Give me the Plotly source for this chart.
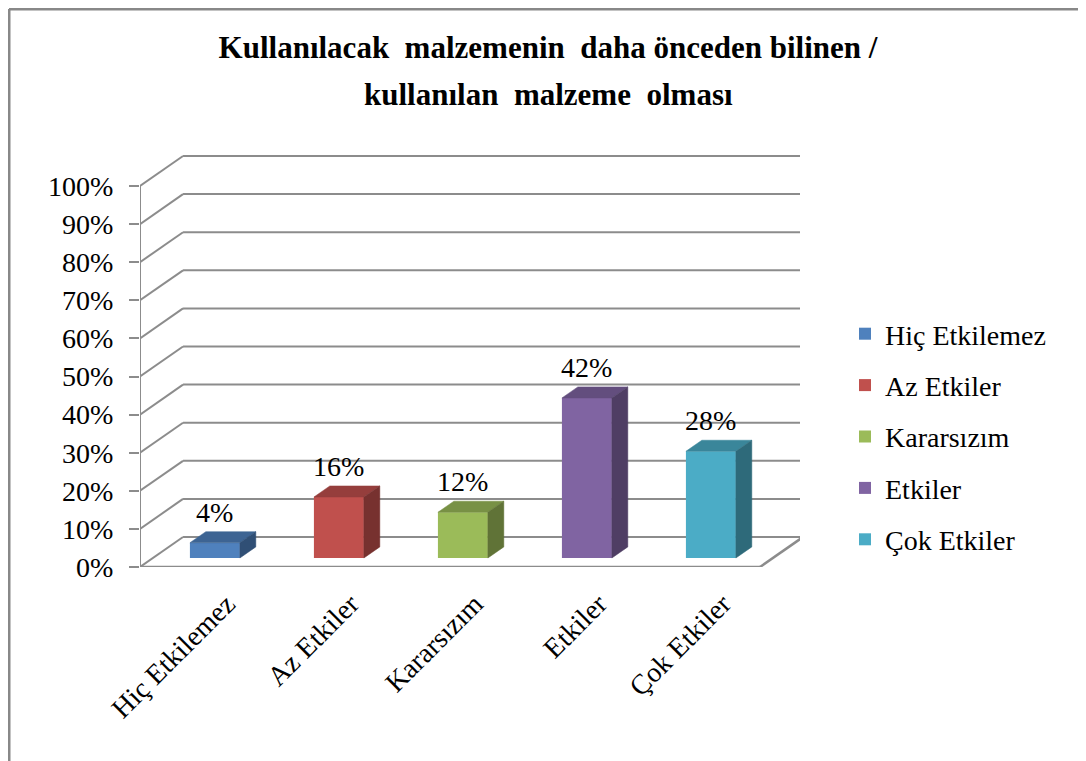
import plotly.graph_objects as go

# ---- data ----
categories = ["Hiç Etkilemez", "Az Etkiler", "Kararsızım", "Etkiler", "Çok Etkiler"]
values = [4, 16, 12, 42, 28]
value_labels = ["4%", "16%", "12%", "42%", "28%"]
y_ticks = [0, 10, 20, 30, 40, 50, 60, 70, 80, 90, 100]
y_tick_labels = [f"{v}%" for v in y_ticks]
title_lines = ["Kullanılacak\u00a0\u00a0malzemenin\u00a0\u00a0daha önceden bilinen /",
               "kullanılan\u00a0\u00a0malzeme\u00a0\u00a0olması"]

# ---- styling / geometry ----
front_colors = ["#4F81BD", "#C0504D", "#9BBB59", "#8064A2", "#4BACC6"]
FONT = "'Liberation Serif', 'Times New Roman', Times, serif"
GRID = "#8C8C8C"

def shade(hexc, f):
    h = hexc.lstrip("#")
    r, g, b = (int(h[i:i + 2], 16) for i in (0, 2, 4))
    return "#%02X%02X%02X" % (int(r * f), int(g * f), int(b * f))

DX = 0.347          # full depth offset along x (category units)
DY = 7.87           # full depth offset along y (percent units)
BAR_FRONT = 0.30    # depth fraction of bar front face
BAR_DEPTH = 0.37    # depth fraction occupied by bar
BAR_W = 0.403
n = len(categories)
X0, X1 = -0.5, n - 0.5

PAGE = 8                       # browser body margin
FW, FH = 1086 - PAGE, 761 - PAGE
PL, PT = 140, 150              # plot area left/top in page px
plot_w, plot_h = 660, 417
L, T = PL - PAGE, PT - PAGE
R = FW - L - plot_w
B = FH - T - plot_h
px_per_unit = 124.0
x_range = [X0, X0 + plot_w / px_per_unit]
y_range = [0, plot_h / 3.81]

def px2paper_x(p): return (p - PL) / plot_w
def py2paper_y(p): return (PT + plot_h - p) / plot_h

fig = go.Figure()

b0 = BAR_FRONT * DY
off = BAR_FRONT * DX
ddx = BAR_DEPTH * DX
ddy = BAR_DEPTH * DY

for i, (cat, v, c) in enumerate(zip(categories, values, front_colors)):
    xc = i + off
    fig.add_trace(go.Bar(x=[xc], y=[v], base=[b0], width=[BAR_W], name=cat,
                         marker=dict(color=c, line=dict(width=0)),
                         legendgroup=cat, showlegend=True, hoverinfo="skip"))
    xl, xr = xc - BAR_W / 2, xc + BAR_W / 2
    top = b0 + v
    fig.add_trace(go.Scatter(x=[xl, xr, xr + ddx, xl + ddx, xl],
                             y=[top, top, top + ddy, top + ddy, top],
                             fill="toself", fillcolor=shade(c, 0.78), mode="lines",
                             line=dict(width=0.5, color=shade(c, 0.78)),
                             showlegend=False, hoverinfo="skip"))
    fig.add_trace(go.Scatter(x=[xr, xr + ddx, xr + ddx, xr, xr],
                             y=[b0, b0 + ddy, top + ddy, top, b0],
                             fill="toself", fillcolor=shade(c, 0.62), mode="lines",
                             line=dict(width=0.5, color=shade(c, 0.62)),
                             showlegend=False, hoverinfo="skip"))
    fig.add_annotation(x=xc, y=top + ddy, xref="x", yref="y",
                       text=value_labels[i], showarrow=False, yanchor="bottom",
                       yshift=2, font=dict(family=FONT, size=28, color="black"))

# second title line
fig.add_annotation(x=px2paper_x(548), y=py2paper_y(95), xref="paper", yref="paper",
                   text="<b>" + title_lines[1] + "</b>", showarrow=False,
                   xanchor="center", yanchor="middle",
                   font=dict(family=FONT, size=31, color="black"))

shapes = []
for v in y_ticks:
    shapes.append(dict(type="line", xref="x", yref="y", x0=X0, y0=v, x1=X0 + DX, y1=v + DY,
                       line=dict(color=GRID, width=2), layer="below"))
    shapes.append(dict(type="line", xref="x", yref="y", x0=X0 + DX, y0=v + DY, x1=X1 + DX, y1=v + DY,
                       line=dict(color=GRID, width=2), layer="below"))
shapes.append(dict(type="line", xref="x", yref="y", x0=X0, y0=0, x1=X1, y1=0,
                   line=dict(color=GRID, width=2.5), layer="below"))
shapes.append(dict(type="line", xref="x", yref="y", x0=X1, y0=0, x1=X1 + DX, y1=DY,
                   line=dict(color=GRID, width=2.5), layer="below"))
shapes.append(dict(type="line", xref="x", yref="y", x0=X0, y0=0, x1=X0, y1=y_ticks[-1],
                   line=dict(color=GRID, width=2), layer="below"))
# outer border (top and left), at the figure edge
shapes.append(dict(type="line", xref="paper", yref="paper",
                   x0=px2paper_x(PAGE + 1), y0=py2paper_y(PAGE + 1), x1=px2paper_x(PAGE + FW), y1=py2paper_y(PAGE + 1),
                   line=dict(color="#888888", width=3)))
shapes.append(dict(type="line", xref="paper", yref="paper",
                   x0=px2paper_x(PAGE + 1), y0=py2paper_y(PAGE + 1), x1=px2paper_x(PAGE + 1), y1=py2paper_y(PAGE + FH),
                   line=dict(color="#888888", width=3)))

fig.update_layout(
    width=FW, height=FH,
    margin=dict(l=L, r=R, t=T, b=B, autoexpand=False),
    paper_bgcolor="white", plot_bgcolor="white",
    shapes=shapes,
    barmode="overlay",
    title=dict(text="<b>" + title_lines[0] + "</b>",
               x=(548 - PAGE) / FW, xanchor="center", y=1 - (47 - PAGE) / FH, yanchor="middle",
               font=dict(family=FONT, size=31, color="black")),
    xaxis=dict(range=x_range, showgrid=False, zeroline=False, showline=False,
               tickmode="array", tickvals=[i + 0.2 for i in range(n)], ticktext=categories,
               tickangle=-45, ticks="", ticklabelstandoff=14,
               tickfont=dict(family=FONT, size=28, color="black"), fixedrange=True),
    yaxis=dict(range=y_range, showgrid=False, zeroline=False, showline=False,
               tickmode="array", tickvals=y_ticks, ticktext=y_tick_labels,
               ticks="outside", ticklen=10, tickwidth=2, tickcolor=GRID,
               ticklabelstandoff=10,
               tickfont=dict(family=FONT, size=28, color="black"), fixedrange=True),
    legend=dict(x=px2paper_x(845), y=py2paper_y(309), xanchor="left", yanchor="top",
                font=dict(family=FONT, size=28, color="black"),
                tracegroupgap=12, itemwidth=30, bgcolor="rgba(0,0,0,0)"),
    showlegend=True,
)

fig.write_html("out.html")
